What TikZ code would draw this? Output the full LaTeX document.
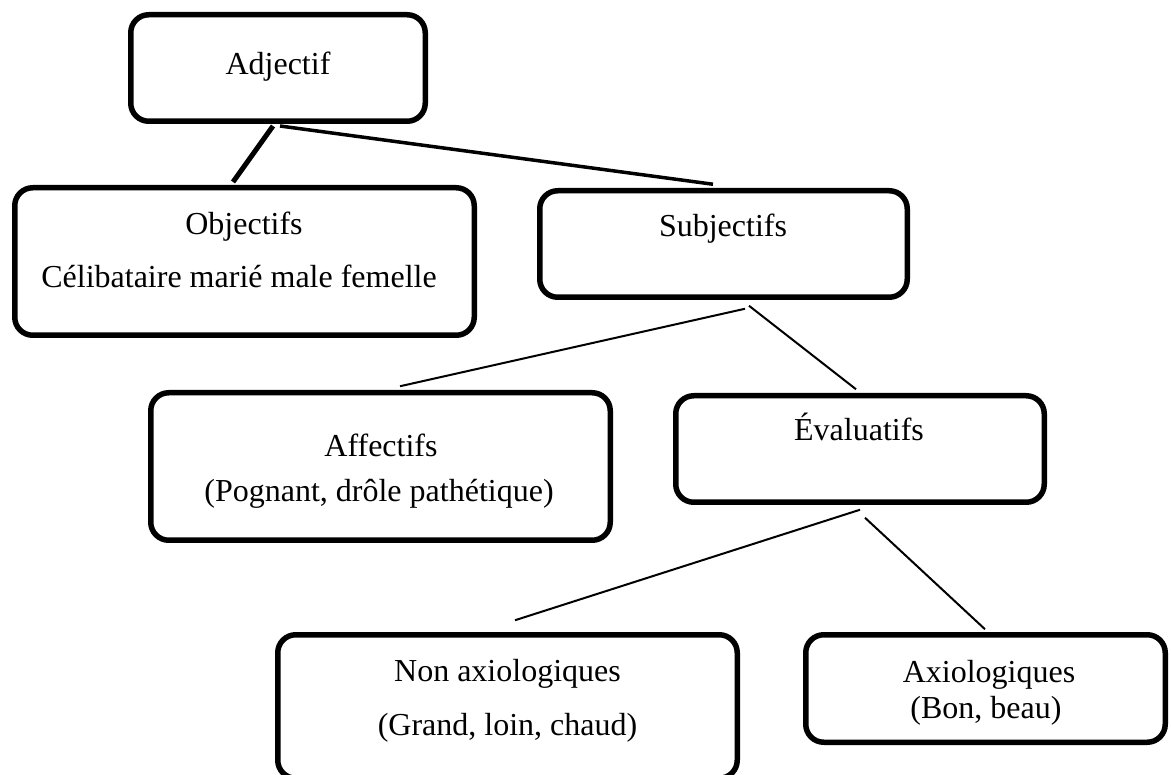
\documentclass[tikz,border=0pt]{standalone}
\usepackage{fontspec}
\setmainfont{Liberation Serif}
\usetikzlibrary{calc}
\tikzset{
  box/.style={draw=black, line width=5.5pt, rounded corners=18pt, inner sep=0pt, fill=white},
  txt/.style={anchor=base, inner sep=0pt, font=\fontsize{32}{38}\selectfont},
  thickconn/.style={line width=5pt},
  midconn/.style={line width=3.5pt},
  thinconn/.style={line width=2pt}
}
\begin{document}
\begin{tikzpicture}[x=1pt,y=-1pt]
\useasboundingbox[fill=white] (0,0) rectangle (1171,775);
% boxes
\node[box, minimum width=294.5pt, minimum height=106.5pt] (adj) at (278,68) {};
\node[box, minimum width=459.5pt, minimum height=147.5pt] (obj) at (244.5,261.5) {};
\node[box, minimum width=367.5pt, minimum height=106.5pt] (subj) at (723.5,244) {};
\node[box, minimum width=459.5pt, minimum height=147.5pt] (aff) at (380.5,466.5) {};
\node[box, minimum width=368.5pt, minimum height=106.5pt] (eva) at (860,449) {};
\node[box, minimum width=459.5pt, minimum height=143.5pt] (nax) at (507.5,706.5) {};
\node[box, minimum width=359.5pt, minimum height=107.5pt] (axi) at (985.5,688.5) {};
% texts
\node[txt] (adjT) at (278,75) {Adjectif};
\node[txt] (objT) at (244,235) {Objectifs};
\node[txt] (objT2) at (239,288) {Célibataire marié male femelle};
\node[txt] (subjT) at (723,237) {Subjectifs};
\node[txt] (affT) at (381,457) {Affectifs};
\node[txt] (affT2) at (379,502) {(Pognant, drôle pathétique)};
\node[txt] (evaT) at (859,441) {Évaluatifs};
\node[txt] (naxT) at (507.5,681) {Non axiologiques};
\node[txt] (naxT2) at (507.5,735) {(Grand, loin, chaud)};
\node[txt] (axiT) at (989,682) {Axiologiques};
\node[txt] (axiT2) at (986,718) {(Bon, beau)};
% connectors
\draw[thickconn] ($(adj.south)+(-5,2)$) -- ($(obj.north)+(-11.5,-3)$);
\draw[midconn] ($(adj.south)+(2,2)$) -- ($(subj.north)+(-10.5,-3.75)$);
\draw[thinconn] ($(subj.south)+(21.5,8.75)$) -- ($(aff.north)+(19.5,-3.75)$);
\draw[thinconn] ($(subj.south)+(25.5,5.75)$) -- ($(eva.north)+(-4,-3.75)$);
\draw[thinconn] ($(eva.south)+(0,4.75)$) -- ($(nax.north)+(7.5,-11.75)$);
\draw[thinconn] ($(eva.south)+(5,12.75)$) -- ($(axi.north)+(-0.5,-2.75)$);
\end{tikzpicture}
\end{document}
